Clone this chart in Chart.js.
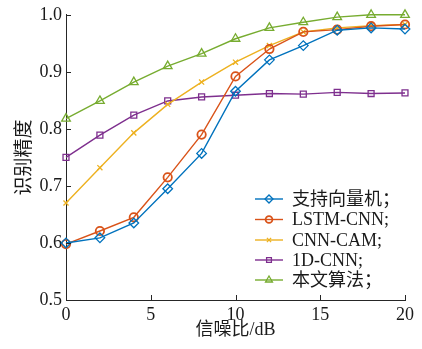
<!DOCTYPE html>
<html>
<head>
<meta charset="utf-8">
<script src="https://cdn.jsdelivr.net/npm/chart.js@4/dist/chart.umd.min.js"></script>
<style>
  html, body { margin: 0; padding: 0; background: #fff; }
  #wrap { width: 422px; height: 349px; }
</style>
</head>
<body>
<div id="wrap"><canvas id="c" width="422" height="349"></canvas></div>
<script>
// Recognition accuracy versus SNR for five methods
const snr = [0, 2, 4, 6, 8, 10, 12, 14, 16, 18, 20];
const svm = [0.600, 0.609, 0.635, 0.695, 0.757, 0.866, 0.921, 0.946, 0.973, 0.977, 0.975];
const lstmCnn = [0.598, 0.621, 0.645, 0.715, 0.790, 0.892, 0.940, 0.970, 0.974, 0.980, 0.983];
const cnnCam = [0.670, 0.732, 0.793, 0.843, 0.882, 0.917, 0.946, 0.970, 0.977, 0.981, 0.983];
const cnn1d = [0.750, 0.789, 0.824, 0.849, 0.856, 0.859, 0.862, 0.861, 0.864, 0.862, 0.863];
const ours = [0.818, 0.849, 0.882, 0.910, 0.932, 0.958, 0.977, 0.987, 0.996, 1.000, 1.000];

const seriesNames = ['支持向量机；', 'LSTM-CNN;', 'CNN-CAM;', '1D-CNN;', '本文算法；'];
const xTicks = [0, 5, 10, 15, 20];
const yTicks = [0.5, 0.6, 0.7, 0.8, 0.9, 1.0];

const serif = "'Liberation Serif', 'Times New Roman', 'Noto Sans CJK SC', serif";

const styles = [
  { color: '#0072BD', point: 'rectRot', r: 4.8, lr: 4, bw: 1.3 },
  { color: '#D95319', point: 'circle', r: 4.2, lr: 3.4, bw: 1.8 },
  { color: '#EDB120', point: 'crossRot', r: 3.6, lr: 3, bw: 1.3 },
  { color: '#7E2F8E', point: 'rect', r: 4.2, lr: 3.4, bw: 1.3 },
  { color: '#77AC30', point: 'triangle', r: 5, lr: 4, bw: 1.3 }
];

const allSeries = [svm, lstmCnn, cnnCam, cnn1d, ours];

const datasets = allSeries.map((vals, i) => ({
  label: seriesNames[i],
  data: snr.map((x, j) => ({ x: x, y: vals[j] })),
  borderColor: styles[i].color,
  backgroundColor: 'rgba(0,0,0,0)',
  pointBackgroundColor: 'rgba(0,0,0,0)',
  pointBorderColor: styles[i].color,
  pointStyle: styles[i].point,
  pointRadius: styles[i].r,
  pointBorderWidth: styles[i].bw,
  borderWidth: 1.4,
  tension: 0,
  clip: false
}));

// Inward tick marks on the left and bottom axes
const inwardTicks = {
  id: 'inwardTicks',
  afterDatasetsDraw(chart) {
    const ctx = chart.ctx;
    const xs = chart.scales.x, ys = chart.scales.y;
    const area = chart.chartArea;
    ctx.save();
    ctx.strokeStyle = '#262626';
    ctx.lineWidth = 1;
    ctx.beginPath();
    xTicks.forEach(v => {
      const px = Math.round(xs.getPixelForValue(v)) + 0.5;
      ctx.moveTo(px, area.bottom);
      ctx.lineTo(px, area.bottom - 5);
    });
    yTicks.forEach(v => {
      const py = Math.round(ys.getPixelForValue(v)) + 0.5;
      ctx.moveTo(area.left, py);
      ctx.lineTo(area.left + 5, py);
    });
    ctx.stroke();
    ctx.restore();
  }
};

// Legend drawn inside the plot area, lower right
const innerLegend = {
  id: 'innerLegend',
  afterDraw(chart) {
    const ctx = chart.ctx;
    const x0 = 255, x1 = 283, tx = 292;
    const rows = [199, 219.5, 240, 260, 280];
    ctx.save();
    ctx.font = '18px ' + serif;
    ctx.textBaseline = 'middle';
    ctx.textAlign = 'left';
    chart.data.datasets.forEach((ds, i) => {
      const y = rows[i];
      ctx.strokeStyle = ds.borderColor;
      ctx.lineWidth = 1.4;
      ctx.beginPath();
      ctx.moveTo(x0, y);
      ctx.lineTo(x1, y);
      ctx.stroke();
      ctx.lineWidth = styles[i].bw;
      ctx.fillStyle = 'rgba(0,0,0,0)';
      Chart.helpers.drawPoint(ctx, { pointStyle: ds.pointStyle, radius: styles[i].lr, rotation: 0, borderWidth: styles[i].bw }, (x0 + x1) / 2, y);
      ctx.fillStyle = '#1a1a1a';
      ctx.fillText(ds.label, tx, y + 1);
    });
    ctx.restore();
  }
};

new Chart(document.getElementById('c'), {
  type: 'line',
  data: { datasets: datasets },
  plugins: [inwardTicks, innerLegend],
  options: {
    responsive: false,
    animation: false,
    devicePixelRatio: 1,
    layout: { padding: { left: 0, top: 14, right: 17, bottom: 0 } },
    plugins: {
      legend: { display: false },
      tooltip: { enabled: false }
    },
    scales: {
      x: {
        type: 'linear',
        min: 0,
        max: 20,
        afterBuildTicks: s => { s.ticks = xTicks.map(v => ({ value: v })); },
        afterFit: s => { s.height = 49; },
        grid: { display: false, drawTicks: false },
        border: { display: true, color: '#262626', width: 1 },
        ticks: {
          color: '#1a1a1a',
          padding: 4,
          maxRotation: 0,
          font: { family: serif, size: 18 },
          callback: v => String(v)
        },
        title: {
          display: true,
          text: '信噪比/dB',
          color: '#1a1a1a',
          font: { family: serif, size: 18 },
          padding: { top: 0, bottom: 8 }
        }
      },
      y: {
        type: 'linear',
        min: 0.5,
        max: 1.0,
        afterBuildTicks: s => { s.ticks = yTicks.map(v => ({ value: v })); },
        afterFit: s => { s.width = 66; },
        grid: { display: false, drawTicks: false },
        border: { display: true, color: '#262626', width: 1 },
        ticks: {
          color: '#1a1a1a',
          padding: 4,
          font: { family: serif, size: 18 },
          callback: v => Number(v).toFixed(1)
        },
        title: {
          display: true,
          text: '识别精度',
          color: '#1a1a1a',
          font: { family: serif, size: 19 },
          padding: { top: 14, bottom: 0 }
        }
      }
    }
  }
});
</script>
</body>
</html>
